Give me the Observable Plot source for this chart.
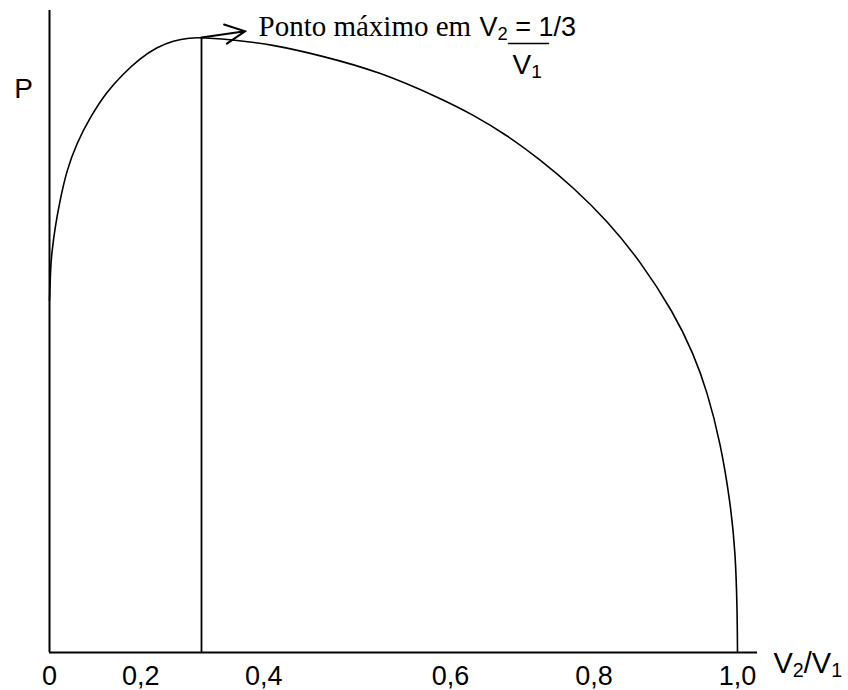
<!DOCTYPE html>
<html>
<head>
<meta charset="utf-8">
<script src="https://cdn.jsdelivr.net/npm/d3@7"></script>
<script src="https://cdn.jsdelivr.net/npm/@observablehq/plot@0.6"></script>
<style>
  body { margin: 0; background: #fff; }
</style>
</head>
<body>
<div id="chart"></div>
<script>
// Power P against the volume ratio V2/V1 (schematic curve, P normalised to its maximum)
const ratio = [0, 0.0026, 0.0048, 0.0121, 0.0230, 0.0377, 0.0596, 0.0888, 0.1254, 0.1618,
  0.1985, 0.2351, 0.2715, 0.3081, 1 / 3, 0.3746, 0.4101, 0.4605, 0.5249, 0.5893,
  0.6321, 0.6790, 0.7254, 0.7714, 0.8184, 0.8648, 0.9108, 0.9387, 0.9578, 0.9763,
  0.9902, 0.9972, 0.9996, 1];
const power = [0.573, 0.628, 0.648, 0.691, 0.735, 0.784, 0.828, 0.870, 0.912, 0.941,
  0.966, 0.984, 0.995, 0.9995, 1, 0.995, 0.988, 0.971, 0.944, 0.901,
  0.874, 0.841, 0.801, 0.756, 0.702, 0.636, 0.553, 0.486, 0.424, 0.341,
  0.243, 0.162, 0.068, 0];

const tickValues = [0, 0.2, 0.4, 0.6, 0.8, 1];
const tickLabels = ["0", "0,2", "0,4", "0,6", "0,8", "1,0"];

// "_x" marks a subscript character
const noteText = "Ponto máximo em";
const noteRatio = "V_2 = 1/3";
const noteDenominator = "V_1";
const xLabel = "V_2/V_1";
const yLabel = "P";

const curve = ratio.map((r, i) => ({ratio: r, power: power[i]}));
const peak = d3.greatest(curve, d => d.power);

const sans = "'Liberation Sans', Arial, sans-serif";
const serif = "'Liberation Serif', 'Times New Roman', serif";

// plain stroke used for the fraction bar
const bar = {draw(context, l) { context.moveTo(0, 0); context.lineTo(0, -l); }};

// open arrow with a fixed-size head
const openArrow = {
  draw(context, l) {
    const w = 22, a = (26 * Math.PI) / 180;
    const sx = w * Math.sin(a), sy = w * Math.cos(a);
    context.moveTo(0, 0);
    context.lineTo(0, -l);
    context.moveTo(-sx, -l + sy);
    context.lineTo(0, -l);
    context.lineTo(sx, -l + sy);
  }
};

const chart = Plot.plot({
  width: 848,
  height: 690,
  marginLeft: 49,
  marginRight: 91,
  marginTop: 10,
  marginBottom: 38,
  style: {fontFamily: sans, fontSize: "27px", background: "#fff", color: "#000"},
  // the axis is drawn schematically (not to scale): the maximum sits at 1/3
  x: {type: "linear", domain: [0, 1 / 3, 0.6, 1], range: [49, 201, 450, 737], label: null},
  y: {type: "linear", domain: [0, 1], range: [652, 37], axis: null, label: null},
  marks: [
    Plot.ruleY([0], {stroke: "#000", strokeWidth: 2}),
    Plot.ruleX([0], {stroke: "#000", strokeWidth: 2}),
    Plot.axisX({
      ticks: tickValues,
      tickFormat: d => tickLabels[tickValues.indexOf(d)],
      tickSize: 0,
      tickPadding: 13,
      label: null,
      fontSize: 27
    }),
    Plot.line(curve, {x: "ratio", y: "power", curve: "basis", stroke: "#000", strokeWidth: 1.6}),
    Plot.ruleX([peak], {x: "ratio", y1: 0, y2: "power", stroke: "#000", strokeWidth: 1.8}),
    Plot.vector([peak], {
      x: "ratio", y: "power", anchor: "start", length: 44, rotate: 81.8, shape: openArrow,
      stroke: "#000", strokeWidth: 2, strokeLinejoin: "miter"
    }),
    Plot.text([peak], {
      x: "ratio", y: "power", text: () => noteText, textAnchor: "start", lineAnchor: "bottom",
      dx: 57, dy: -2, fontFamily: serif, fontSize: 29, fill: "#000"
    }),
    Plot.text([peak], {
      x: "ratio", y: "power", text: () => noteRatio, textAnchor: "start", lineAnchor: "bottom",
      dx: 278, dy: -2, fontFamily: sans, fontSize: 27, fill: "#000"
    }),
    Plot.vector([peak], {
      x: "ratio", y: "power", anchor: "start", length: 40, rotate: 90, shape: bar,
      dx: 307, dy: 6, stroke: "#000", strokeWidth: 1.5
    }),
    Plot.text([peak], {
      x: "ratio", y: "power", text: () => noteDenominator, textAnchor: "start", lineAnchor: "bottom",
      dx: 311, dy: 36, fontFamily: sans, fontSize: 28, fill: "#000"
    }),
    Plot.text([yLabel], {
      frameAnchor: "top-left", dx: -26, dy: 87, textAnchor: "middle", lineAnchor: "bottom",
      fontFamily: sans, fontSize: 28, fill: "#000"
    }),
    Plot.text([xLabel], {
      frameAnchor: "bottom-right", dx: 16, dy: 20, textAnchor: "start", lineAnchor: "bottom",
      fontFamily: sans, fontSize: 29, fill: "#000"
    })
  ]
});

// turn "_x" into subscript tspans
const NS = "http://www.w3.org/2000/svg";
for (const t of chart.querySelectorAll("text")) {
  const s = t.textContent;
  if (!s.includes("_")) continue;
  const holder = t.closest("[font-size]");
  const fs = parseFloat(holder && holder.getAttribute("font-size")) || 27;
  t.textContent = "";
  let shift = 0;
  s.split(/_(\w)/).forEach((part, i) => {
    if (!part) return;
    const sub = i % 2 === 1;
    const ts = document.createElementNS(NS, "tspan");
    ts.textContent = part;
    const target = sub ? fs * 0.15 : 0;
    if (target !== shift) { ts.setAttribute("dy", target - shift); shift = target; }
    if (sub) ts.setAttribute("font-size", fs * 0.68);
    t.appendChild(ts);
  });
}

document.getElementById("chart").appendChild(chart);
</script>
</body>
</html>
